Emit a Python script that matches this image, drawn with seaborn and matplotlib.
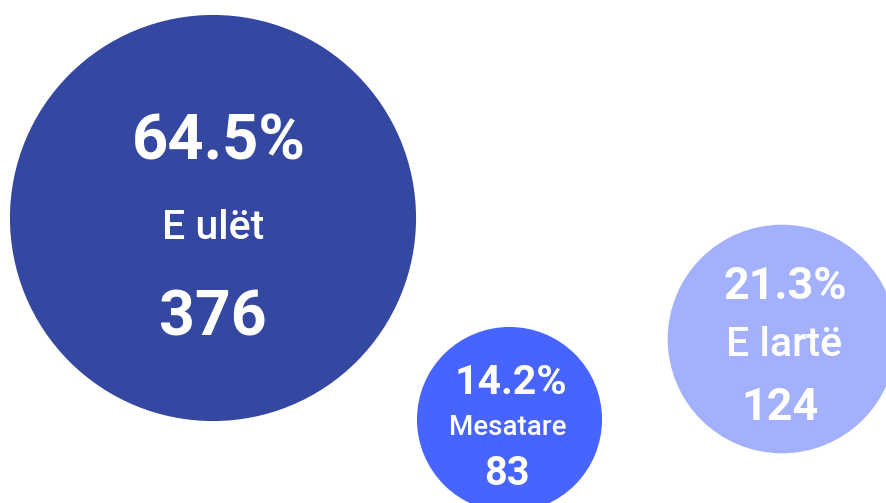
import numpy as np
import pandas as pd
import seaborn as sns
import matplotlib.pyplot as plt
from matplotlib.patches import Circle

# data
levels = ['E ulët', 'Mesatare', 'E lartë']
counts = [376, 83, 124]
colors = ['#3447A1', '#4864FE', '#A2B0FE']

# bubble layout (pixel positions of the centres)
centre_x = [213, 509.5, 782]
centre_y = [218, 419.5, 339]

df = pd.DataFrame({'level': levels, 'count': counts, 'cx': centre_x, 'cy': centre_y})
df['pct'] = df['count'] / df['count'].sum() * 100
# radius from a sqrt scale on the count
df['r'] = 10.75 * np.sqrt(df['count']) - 5.4

sns.set_theme(style="white")
plt.rcParams['font.family'] = ['Roboto', 'DejaVu Sans']

fig = plt.figure(figsize=(8.86, 5.03), dpi=100)
ax = fig.add_axes([0, 0, 1, 1])
ax.set_xlim(0, 886)
ax.set_ylim(503, 0)
ax.axis('off')

palette = sns.color_palette(colors)

# text offsets (baseline relative to centre) and font sizes for each bubble
text_style = [
    # (dy pct, dy label, dy count, size pct, size label, size count, dx pct, dx label, dx count)
    (-58, 21, 117, 45.5, 29.5, 45, 6, 0, 0),
    (-25.5, 15.5, 65.5, 29.5, 20, 28.5, 1.5, -1.5, -2.5),
    (-40, 17, 81, 32.4, 29.5, 32.4, 3, 2, -2),
]

for i, row in df.iterrows():
    ax.add_patch(Circle((row['cx'], row['cy']), row['r'], color=palette[i], lw=0))
    dyp, dyl, dyc, sp, sl, sc, dxp, dxl, dxc = text_style[i]
    ax.text(row['cx'] + dxp, row['cy'] + dyp, f"{row['pct']:.1f}%", color='white',
            fontsize=sp, fontweight='bold', ha='center', va='baseline')
    ax.text(row['cx'] + dxl, row['cy'] + dyl, row['level'], color='white',
            fontsize=sl, fontweight='medium', ha='center', va='baseline')
    ax.text(row['cx'] + dxc, row['cy'] + dyc, f"{row['count']}", color='white',
            fontsize=sc, fontweight='bold', ha='center', va='baseline')

plt.savefig('out.png', dpi=100)
